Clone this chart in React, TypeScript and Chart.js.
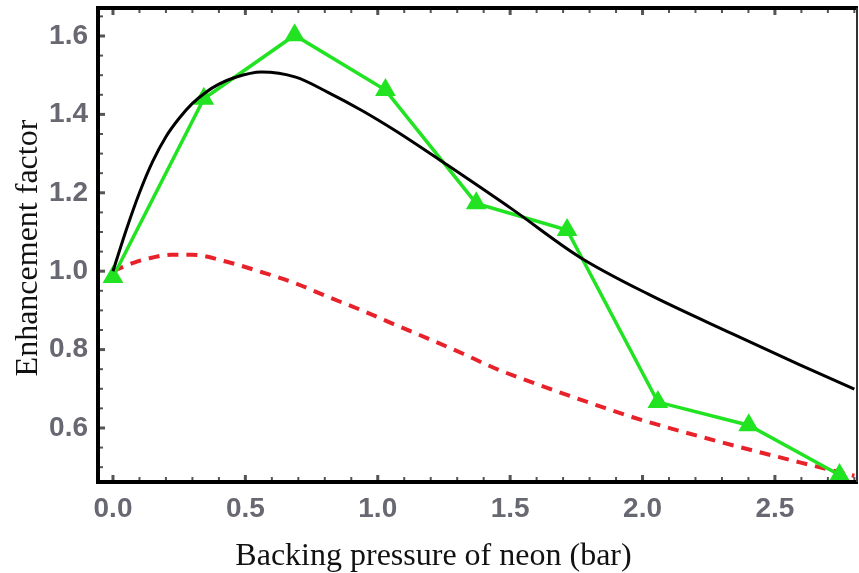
import React, { useEffect, useRef } from "react";
import { Chart, registerables } from "chart.js";

Chart.register(...registerables);

// Measured data (green triangles)
const measuredX = [0, 0.343, 0.686, 1.029, 1.372, 1.715, 2.058, 2.401, 2.744];
const measuredY = [0.985, 1.44, 1.602, 1.462, 1.173, 1.105, 0.666, 0.607, 0.48];

// Theory curve (black solid)
const theoryX = [0, 0.05, 0.1, 0.15, 0.2, 0.25, 0.3, 0.35, 0.4, 0.46, 0.56, 0.69, 0.81, 0.94, 1.07, 1.26, 1.51, 1.76, 2.02, 2.34, 2.59, 2.8];
const theoryY = [1.0, 1.105, 1.2, 1.28, 1.343, 1.39, 1.428, 1.456, 1.477, 1.494, 1.508, 1.495, 1.457, 1.41, 1.357, 1.272, 1.157, 1.037, 0.942, 0.84, 0.762, 0.699];

// Reference curve (red dashed)
const refX = [0, 0.08, 0.15, 0.22, 0.3, 0.43, 0.56, 0.69, 0.81, 0.94, 1.07, 1.19, 1.32, 1.44, 1.6, 1.72, 1.84, 1.96, 2.09, 2.34, 2.59, 2.8];
const refY = [1.0, 1.022, 1.035, 1.042, 1.042, 1.024, 0.998, 0.969, 0.935, 0.9, 0.862, 0.828, 0.79, 0.753, 0.712, 0.683, 0.655, 0.628, 0.602, 0.556, 0.513, 0.478];

const xTicks = [0, 0.5, 1.0, 1.5, 2.0, 2.5];
const yTicks = [0.6, 0.8, 1.0, 1.2, 1.4, 1.6];

const xTitle = "Backing pressure of neon (bar)";
const yTitle = "Enhancement factor";

const toPts = (xs: number[], ys: number[]) => xs.map((x, i) => ({ x, y: ys[i] }));

const framePlugin = {
  id: "frame",
  afterDraw(chart: any) {
    const { ctx, chartArea: a, scales } = chart;
    const xs = scales.x;
    const ys = scales.y;
    ctx.save();
    // minor / major ticks (inward)
    ctx.strokeStyle = "#555";
    for (let i = -1; i <= 28; i++) {
      const v = i / 10;
      if (v < xs.min || v > xs.max) continue;
      const px = xs.getPixelForValue(v);
      const major = i % 5 === 0;
      const len = major ? 7 : 5;
      ctx.lineWidth = major ? 3 : 2;
      ctx.beginPath();
      ctx.moveTo(px, a.bottom);
      ctx.lineTo(px, a.bottom - len);
      ctx.moveTo(px, a.top);
      ctx.lineTo(px, a.top + len);
      ctx.stroke();
    }
    for (let i = 9; i <= 34; i++) {
      const v = i * 0.05;
      if (v < ys.min || v > ys.max) continue;
      const py = ys.getPixelForValue(v);
      const major = i % 4 === 0;
      const len = major ? 7 : 5;
      ctx.lineWidth = major ? 3 : 2;
      ctx.beginPath();
      ctx.moveTo(a.left, py);
      ctx.lineTo(a.left + len, py);
      ctx.stroke();
    }
    // frame
    ctx.strokeStyle = "#000";
    ctx.lineWidth = 4;
    ctx.beginPath();
    ctx.moveTo(a.right + 1, a.top);
    ctx.lineTo(a.left, a.top);
    ctx.lineTo(a.left, a.bottom);
    ctx.lineTo(a.right + 1, a.bottom);
    ctx.stroke();
    ctx.lineWidth = 2;
    ctx.strokeStyle = "#333";
    ctx.beginPath();
    ctx.moveTo(a.right, a.top);
    ctx.lineTo(a.right, a.bottom);
    ctx.stroke();
    // axis titles
    ctx.fillStyle = "#111";
    ctx.font = '32px "Liberation Serif", "Times New Roman", serif';
    ctx.textAlign = "center";
    ctx.textBaseline = "alphabetic";
    ctx.fillText(xTitle, (a.left + a.right) / 2 - 44, 565);
    ctx.translate(37, (a.top + a.bottom) / 2 + 3);
    ctx.rotate(-Math.PI / 2);
    ctx.fillText(yTitle, 0, 0);
    ctx.restore();
  },
};

export default function App() {
  const ref = useRef<HTMLCanvasElement | null>(null);

  useEffect(() => {
    if (!ref.current) return;
    const tickFont = { family: '"Liberation Sans", Arial, sans-serif', size: 28, weight: "bold" as const };
    const chart = new Chart(ref.current, {
      type: "line",
      data: {
        datasets: [
          {
            data: toPts(theoryX, theoryY),
            borderColor: "#000",
            borderWidth: 3,
            pointRadius: 0,
            cubicInterpolationMode: "monotone",
            fill: false,
            order: 0,
          },
          {
            data: toPts(measuredX, measuredY),
            borderColor: "#22e322",
            backgroundColor: "#22e322",
            borderWidth: 3.5,
            pointStyle: "triangle",
            pointRadius: 12,
            pointBorderWidth: 0,
            tension: 0,
            fill: false,
            clip: false as any,
            order: 1,
          },
          {
            data: toPts(refX, refY),
            borderColor: "#e8222a",
            borderWidth: 4,
            borderDash: [11, 8],
            pointRadius: 0,
            cubicInterpolationMode: "monotone",
            fill: false,
            order: 2,
          },
        ],
      },
      options: {
        animation: false,
        responsive: false,
        devicePixelRatio: 1,
        layout: { autoPadding: false, padding: { top: 8, right: 2, left: 0, bottom: 0 } },
        plugins: { legend: { display: false }, tooltip: { enabled: false } },
        scales: {
          x: {
            type: "linear",
            min: -0.0566,
            max: 2.81,
            grid: { display: false },
            border: { display: false },
            ticks: {
              font: tickFont,
              color: "#686872",
              padding: 2,
              maxRotation: 0,
              autoSkip: false,
              callback: (v: any) => Number(v).toFixed(1),
            },
            afterBuildTicks: (s: any) => {
              s.ticks = xTicks.map((v) => ({ value: v }));
            },
            afterFit: (s: any) => {
              s.height = 91;
              s.paddingLeft = 0;
              s.paddingRight = 0;
            },
          },
          y: {
            type: "linear",
            min: 0.4622,
            max: 1.6714,
            grid: { display: false },
            border: { display: false },
            ticks: {
              font: tickFont,
              color: "#686872",
              padding: 2,
              autoSkip: false,
              callback: (v: any) => Number(v).toFixed(1),
            },
            afterBuildTicks: (s: any) => {
              s.ticks = yTicks.map((v) => ({ value: v }));
            },
            afterFit: (s: any) => {
              s.width = 98;
              s.paddingTop = 0;
              s.paddingBottom = 0;
            },
          },
        },
      },
      plugins: [framePlugin],
    });
    return () => chart.destroy();
  }, []);

  return (
    <div style={{ position: "fixed", left: 0, top: 0, width: 859, height: 573, background: "#fff" }}>
      <canvas ref={ref} width={859} height={573} style={{ width: 859, height: 573, display: "block" }} />
    </div>
  );
}
